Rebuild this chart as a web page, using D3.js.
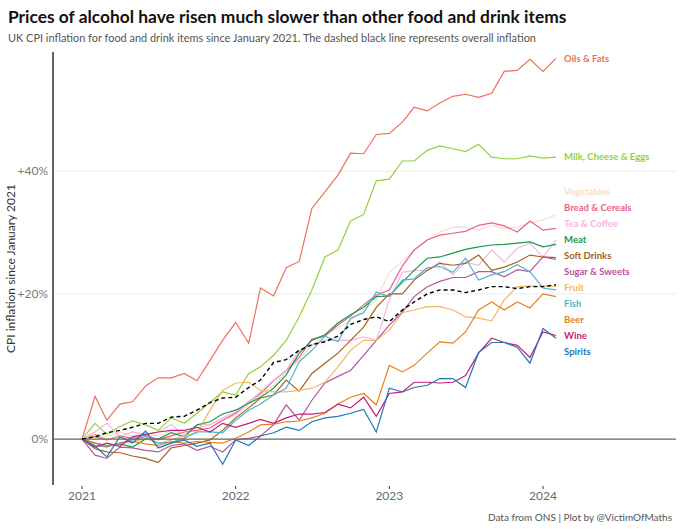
<!DOCTYPE html>
<html>
<head>
<meta charset="utf-8">
<script src="https://cdn.jsdelivr.net/npm/d3@7"></script>
<style>
  body { margin: 0; background: #fff; }
  svg { font-family: Lato, "Open Sans", sans-serif; }
</style>
</head>
<body>
<div id="chart"></div>
<script>
// CPI change since Jan 2021 (%), monthly Jan 2021 - Feb 2024
const oilsFats      = [0, 5.5, 2.4, 4.5, 4.8, 6.9, 8.0, 8.0, 8.6, 7.6, 10.4, 13.2, 15.8, 12.8, 20.9, 19.7, 24.0, 25.0, 33.6, 36.4, 39.3, 43.2, 43.1, 46.6, 46.8, 48.9, 51.7, 51.0, 52.5, 53.8, 54.2, 53.6, 54.4, 58.7, 58.9, 61.1, 58.7, 61.3];
const milkCheeseEggs = [0, 2.0, 0.6, 1.6, 2.3, 1.8, 1.1, 2.7, 2.0, 3.3, 4.7, 6.1, 5.7, 8.6, 9.5, 11.1, 13.2, 16.6, 20.6, 25.7, 26.8, 31.5, 32.6, 38.3, 38.6, 41.8, 41.8, 43.7, 44.5, 44.0, 43.5, 44.8, 42.5, 42.2, 42.2, 42.7, 42.3, 42.5];
const vegetables    = [0, 0.5, 0.3, 0.9, 0.4, 0.6, 0.4, 1.1, 0.6, 1.4, 1.8, 2.4, 3.1, 4.4, 5.7, 7.0, 8.8, 10.4, 12.5, 14.0, 15.0, 16.1, 17.6, 19.1, 23.3, 25.0, 26.8, 28.4, 29.7, 30.5, 30.5, 30.0, 30.8, 30.3, 30.5, 31.2, 31.7, 32.5];
const breadCereals  = [0, 0.3, -0.1, 0.4, 0.1, 0.5, -0.1, 0.4, 0.9, 1.1, 1.4, 2.4, 3.3, 4.8, 5.9, 7.6, 9.0, 10.8, 13.4, 13.8, 15.4, 16.7, 18.4, 19.8, 20.6, 24.3, 26.8, 28.4, 29.2, 29.5, 29.8, 30.8, 31.2, 30.7, 29.7, 31.5, 30.0, 30.3];
const teaCoffee     = [0, 0.9, 2.0, 0.3, 0.9, 0.6, 0.9, 1.9, 0.4, 1.8, 1.8, 2.7, 3.5, 4.8, 6.1, 7.7, 9.0, 11.8, 12.5, 13.2, 13.2, 13.2, 13.7, 13.2, 19.1, 23.3, 23.6, 23.6, 24.9, 22.9, 24.9, 24.4, 26.8, 24.9, 27.1, 27.9, 25.7, 28.4];
const meat          = [0, -0.5, -0.8, -0.6, -1.0, 0, 0, 0.8, 0.3, 1.8, 2.2, 3.2, 3.7, 4.6, 5.4, 6.6, 8.4, 11.4, 13.2, 14.0, 15.7, 16.9, 18.0, 19.6, 19.7, 21.8, 23.6, 25.5, 25.7, 26.3, 26.9, 27.3, 27.6, 27.7, 27.9, 28.1, 27.3, 27.7];
const softDrinks    = [0, -1.2, -1.6, -1.7, -2.1, -2.4, -2.9, -1.1, -0.8, -0.5, -0.1, 1.1, 2.7, 4.0, 5.3, 5.7, 7.7, 6.2, 8.6, 10.0, 11.4, 13.2, 15.1, 18.0, 20.0, 20.0, 22.1, 23.6, 24.7, 24.4, 24.7, 26.0, 23.6, 24.1, 24.9, 26.0, 25.7, 25.6];
const sugarSweets   = [0, -2.0, -2.4, -1.0, -1.1, -1.4, -1.6, -0.8, -0.6, -1.4, -0.9, -1.6, -0.1, 0.1, 0.4, 1.8, 4.4, 2.4, 5.0, 7.3, 8.2, 9.0, 11.1, 13.2, 15.4, 17.3, 19.6, 21.1, 21.9, 22.5, 22.5, 23.4, 23.4, 22.6, 23.7, 23.4, 25.7, 25.3];
const fruit         = [0, 0.6, -0.1, 0.3, -0.4, 0.1, -0.6, -0.1, 0.4, 0.8, 3.7, 6.3, 7.3, 7.4, 6.3, 6.1, 6.1, 6.3, 6.6, 7.4, 9.5, 11.8, 13.2, 13.2, 14.7, 17.2, 17.6, 18.1, 18.1, 17.6, 16.6, 16.4, 16.0, 19.1, 21.1, 21.2, 21.2, 21.1];
const fish          = [0, -0.8, -1.0, -0.5, -0.1, 0.3, -0.5, -0.4, 0.1, 0.9, 0.9, 0.8, 2.4, 3.7, 4.5, 5.7, 6.6, 10.2, 11.8, 13.8, 13.0, 16.4, 17.2, 20.3, 19.6, 22.1, 22.3, 24.0, 24.2, 23.3, 25.5, 22.1, 22.9, 23.4, 24.5, 23.4, 20.9, 20.6];
const beer          = [0, -0.5, -0.9, -0.5, -0.3, -0.6, -0.8, -0.3, -0.5, -0.3, -0.4, -0.5, 0.1, 0.9, 1.8, 1.9, 2.2, 2.3, 2.7, 3.3, 4.5, 5.4, 5.9, 4.4, 9.7, 8.8, 9.7, 11.4, 13.0, 12.8, 14.4, 17.6, 18.8, 17.6, 18.8, 17.9, 20.0, 19.6];
const wine          = [0, -1.0, -0.5, -0.9, 0.3, 0.6, 0.9, 1.1, 1.1, 1.5, 0.9, 2.0, 1.5, 2.0, 2.5, 2.0, 2.7, 3.2, 3.2, 3.4, 4.5, 4.0, 5.4, 2.9, 5.9, 6.1, 7.4, 7.4, 7.3, 7.4, 8.3, 11.4, 13.5, 12.9, 12.5, 10.8, 14.4, 13.9];
const spirits       = [0, -0.9, -2.2, 0.3, -0.5, 1.0, -1.1, -0.5, -0.1, -0.9, -0.5, -3.1, -0.1, -0.8, 0.4, 0.8, 1.5, 1.1, 2.2, 2.7, 2.9, 3.3, 3.8, 0.9, 6.6, 6.1, 6.7, 7.0, 7.9, 7.9, 6.7, 11.5, 12.9, 12.9, 12.2, 10.0, 14.9, 13.5];
const overall       = [0, 0.3, 0.8, 1.1, 1.5, 2.0, 2.0, 2.8, 2.9, 3.7, 4.7, 5.3, 5.4, 6.7, 7.7, 10.1, 10.5, 11.8, 12.6, 13.0, 13.8, 15.5, 16.2, 16.6, 15.9, 17.6, 18.8, 20.0, 20.6, 20.6, 20.2, 20.6, 21.1, 21.1, 20.8, 21.1, 21.1, 21.4];

const categories = ["Oils & Fats", "Milk, Cheese & Eggs", "Vegetables", "Bread & Cereals", "Tea & Coffee", "Meat",
  "Soft Drinks", "Sugar & Sweets", "Fruit", "Fish", "Beer", "Wine", "Spirits"];
const categoryValues = [oilsFats, milkCheeseEggs, vegetables, breadCereals, teaCoffee, meat,
  softDrinks, sugarSweets, fruit, fish, beer, wine, spirits];
const categoryColours = ["#f26d5b", "#94d13c", "#f7dcc6", "#ea5f8a", "#f0b8df", "#1a9850",
  "#a6611a", "#b5559d", "#f6b765", "#4db3cf", "#e5801f", "#c51b7d", "#1f78b4"];

const yTicks = [0, 20, 40];
const yTickLabels = ["0%", "+20%", "+40%"];
const xTickYears = [2021, 2022, 2023, 2024];

const months = d3.timeMonth.range(new Date(2021, 0, 1), new Date(2024, 2, 1));

const width = 680, height = 529;

const svg = d3.select("#chart").append("svg")
    .attr("width", width)
    .attr("height", height);

// scales - y is a log scale on the price index (100 = Jan 2021)
const x = d3.scaleTime()
    .domain([new Date(2021, 0, 1), new Date(2024, 0, 1)])
    .range([82, 543]);

const y = d3.scaleLog()
    .domain([94.4, 162.6])
    .range([485, 52]);

const panelLeft = 53, panelRight = 676;

// titles
const title = svg.append("text")
    .attr("x", 8).attr("y", 23)
    .attr("font-weight", 700)
    .attr("font-size", 18)
    .attr("fill", "#111")
    .text("Prices of alcohol have risen much slower than other food and drink items");
fitWidth(title, 559, 18);

const subtitle = svg.append("text")
    .attr("x", 8).attr("y", 42)
    .attr("font-size", 12)
    .attr("fill", "#555")
    .text("UK CPI inflation for food and drink items since January 2021. The dashed black line represents overall inflation");
fitWidth(subtitle, 529, 12);

function fitWidth(sel, target, size) {
  const w = sel.node().getComputedTextLength();
  if (w > 0) sel.attr("font-size", size * target / w);
}

// gridlines
svg.append("g")
  .selectAll("line")
  .data(yTicks.filter(d => d !== 0))
  .join("line")
    .attr("x1", panelLeft).attr("x2", panelRight)
    .attr("y1", d => y(100 + d)).attr("y2", d => y(100 + d))
    .attr("stroke", "#ebebeb")
    .attr("stroke-width", 1);

// y tick labels
svg.append("g")
    .attr("text-anchor", "end")
    .attr("font-size", 12)
    .attr("fill", "#7a7a7a")
  .selectAll("text")
  .data(yTicks)
  .join("text")
    .attr("x", 48)
    .attr("y", d => y(100 + d))
    .attr("dy", "0.35em")
    .text((d, i) => yTickLabels[i]);

// x axis labels and ticks
const xg = svg.append("g");
xg.selectAll("line")
  .data(xTickYears)
  .join("line")
    .attr("x1", d => x(new Date(d, 0, 1))).attr("x2", d => x(new Date(d, 0, 1)))
    .attr("y1", 486).attr("y2", 489)
    .attr("stroke", "#333");
xg.selectAll("text")
  .data(xTickYears)
  .join("text")
    .attr("x", d => x(new Date(d, 0, 1)))
    .attr("y", 500)
    .attr("text-anchor", "middle")
    .attr("font-size", 12)
    .attr("fill", "#6a6a6a")
    .text(d => d);

// y axis title
svg.append("text")
    .attr("transform", `translate(15,${(52 + 485) / 2}) rotate(-90)`)
    .attr("text-anchor", "middle")
    .attr("font-size", 12)
    .attr("fill", "#333")
    .text("CPI inflation since January 2021");

// y axis line
svg.append("line")
    .attr("x1", panelLeft).attr("x2", panelLeft)
    .attr("y1", 52).attr("y2", 485)
    .attr("stroke", "#111")
    .attr("stroke-width", 1.3);

const line = d3.line()
    .x((d, i) => x(months[i]))
    .y(d => y(100 + d));

// category lines
svg.append("g")
    .attr("fill", "none")
    .attr("stroke-width", 1.2)
  .selectAll("path")
  .data(categoryValues)
  .join("path")
    .attr("stroke", (d, i) => categoryColours[i])
    .attr("d", line);

// zero line
svg.append("line")
    .attr("x1", panelLeft).attr("x2", panelRight)
    .attr("y1", y(100)).attr("y2", y(100))
    .attr("stroke", "#666")
    .attr("stroke-width", 1.2);

// overall inflation, dashed
svg.append("path")
    .datum(overall)
    .attr("fill", "none")
    .attr("stroke", "#000")
    .attr("stroke-width", 1.4)
    .attr("stroke-dasharray", "4,3")
    .attr("d", line);

// end labels, spread apart so they do not overlap
const labels = categories.map((name, i) => ({
  name: name,
  colour: categoryColours[i],
  y: y(100 + categoryValues[i][categoryValues[i].length - 1])
})).sort((a, b) => a.y - b.y);

const gap = 16;
for (let k = 0; k < 300; k++) {
  for (let i = 1; i < labels.length; i++) {
    const diff = labels[i].y - labels[i - 1].y;
    if (diff < gap) {
      const push = (gap - diff) / 2;
      labels[i - 1].y -= push;
      labels[i].y += push;
    }
  }
}

const labelX = x(months[months.length - 1]) + 8;
svg.append("g")
    .attr("font-size", 9.5)
    .attr("font-weight", 700)
  .selectAll("text")
  .data(labels)
  .join("text")
    .attr("x", labelX)
    .attr("y", d => d.y)
    .attr("dy", "0.35em")
    .attr("fill", d => d.colour)
    .text(d => d.name);

// caption
svg.append("text")
    .attr("x", 672).attr("y", 521)
    .attr("text-anchor", "end")
    .attr("font-size", 10)
    .attr("fill", "#555")
    .text("Data from ONS | Plot by @VictimOfMaths");
</script>
</body>
</html>
